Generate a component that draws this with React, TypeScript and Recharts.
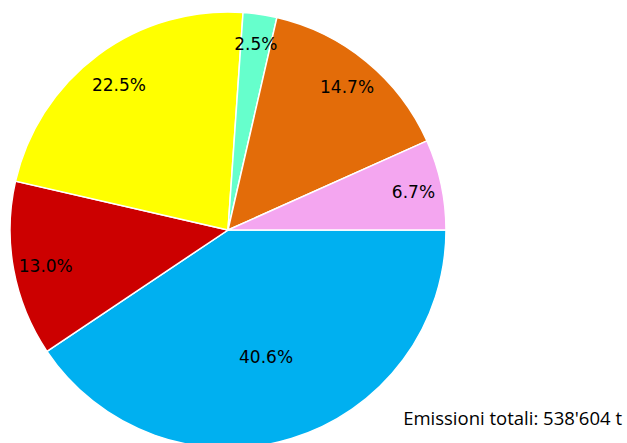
import React from 'react';
import { PieChart, Pie, Cell } from 'recharts';

const categories = ['A', 'B', 'C', 'D', 'E', 'F'];
const shares = [40.6, 13.0, 22.5, 2.5, 14.7, 6.7];
const sliceColors = ['#00B0F0', '#CC0000', '#FFFF00', '#66FFCC', '#E36C09', '#F4A6F0'];
const labelRadius = [0.6, 0.85, 0.84, 0.87, 0.86, 0.87];
const totalLabel = "Emissioni totali: 538'604 t";

const data = categories.map((name, i) => ({ name, value: shares[i] }));

const RAD = Math.PI / 180;

function renderLabel(props: any) {
  const { cx, cy, midAngle, outerRadius, index, value } = props;
  const r = outerRadius * labelRadius[index];
  const x = cx + r * Math.cos(-midAngle * RAD);
  const y = cy + r * Math.sin(-midAngle * RAD);
  return (
    <text
      x={x}
      y={y}
      dy={2}
      fill="#000"
      textAnchor="middle"
      dominantBaseline="central"
      fontFamily="DejaVu Sans, sans-serif"
      fontSize={17}
    >
      {value.toFixed(1)}%
    </text>
  );
}

export default function App() {
  return (
    <div style={{ position: 'absolute', left: 0, top: 0, width: 627, height: 443, background: '#fff' }}>
      <PieChart width={627} height={443} margin={{ top: 0, right: 0, bottom: 0, left: 0 }}>
        <Pie
          data={data}
          dataKey="value"
          nameKey="name"
          cx={228}
          cy={230}
          outerRadius={218}
          startAngle={0}
          endAngle={-360}
          stroke="#fff"
          strokeWidth={1.5}
          label={renderLabel}
          labelLine={false}
          isAnimationActive={false}
        >
          {data.map((entry, i) => (
            <Cell key={entry.name} fill={sliceColors[i]} />
          ))}
        </Pie>
        <text
          x={622}
          y={425}
          textAnchor="end"
          fontFamily="Open Sans, sans-serif"
          fontSize={18.5}
          fill="#000"
        >
          {totalLabel}
        </text>
      </PieChart>
    </div>
  );
}
